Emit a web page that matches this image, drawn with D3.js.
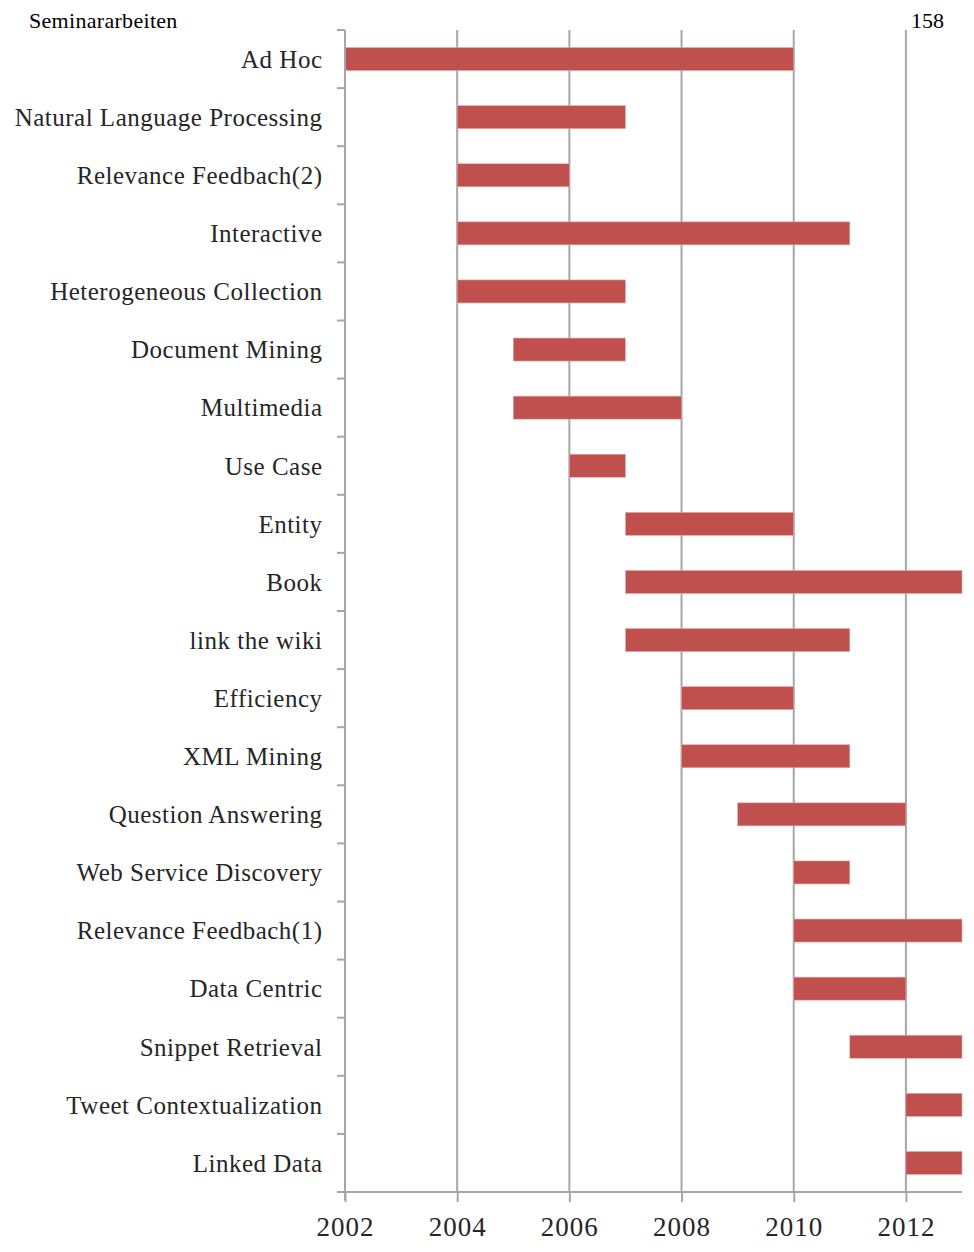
<!DOCTYPE html>
<html>
<head>
<meta charset="utf-8">
<script src="https://cdn.jsdelivr.net/npm/d3@7"></script>
<style>
  html, body { margin: 0; padding: 0; background: #fff; }
  svg { display: block; font-family: "Liberation Serif", "Times New Roman", serif; }
</style>
</head>
<body>
<svg id="chart" width="974" height="1252"></svg>
<script>
// INEX tracks and the years they ran
const tracks = [
  "Ad Hoc", "Natural Language Processing", "Relevance Feedbach(2)", "Interactive",
  "Heterogeneous Collection", "Document Mining", "Multimedia", "Use Case", "Entity",
  "Book", "link the wiki", "Efficiency", "XML Mining", "Question Answering",
  "Web Service Discovery", "Relevance Feedbach(1)", "Data Centric",
  "Snippet Retrieval", "Tweet Contextualization", "Linked Data"
];
const startYears = [2002, 2004, 2004, 2004, 2004, 2005, 2005, 2006, 2007, 2007, 2007, 2008, 2008, 2009, 2010, 2010, 2010, 2011, 2012, 2012];
const endYears   = [2010, 2007, 2006, 2011, 2007, 2007, 2008, 2007, 2010, 2013, 2011, 2010, 2011, 2012, 2011, 2013, 2012, 2013, 2013, 2013];
const yearTicks = [2002, 2004, 2006, 2008, 2010, 2012];

const svg = d3.select("#chart");
const plotLeft = 345, plotRight = 962, plotTop = 30, plotBottom = 1192;

const x = d3.scaleLinear().domain([2002, 2013]).range([plotLeft, plotRight]);
const y = d3.scaleBand().domain(tracks).range([plotTop, plotBottom]).padding(0);

const grey = "#a6a6a6";
const ink = "#262626";

// header line
svg.append("text").attr("x", 29).attr("y", 28).attr("font-size", 22)
  .attr("letter-spacing", 0.3).attr("fill", "#000")
  .text("Seminararbeiten");
svg.append("text").attr("x", 944).attr("y", 28).attr("font-size", 22).attr("fill", "#000")
  .attr("text-anchor", "end").text("158");

// vertical gridlines
svg.append("g").selectAll("line").data(yearTicks.slice(1)).join("line")
  .attr("x1", d => x(d)).attr("x2", d => x(d))
  .attr("y1", plotTop).attr("y2", plotBottom)
  .attr("stroke", grey).attr("stroke-width", 2);

// bars
const rows = tracks.map((t, i) => ({ t, s: startYears[i], e: endYears[i] }));
const barH = 23;
svg.append("g").selectAll("rect").data(rows).join("rect")
  .attr("x", d => x(d.s))
  .attr("y", d => y(d.t) + (y.bandwidth() - barH) / 2)
  .attr("width", d => x(d.e) - x(d.s))
  .attr("height", barH)
  .attr("fill", "#C0504D")
  .attr("stroke", "#e3aaa8").attr("stroke-width", 0.6);

// y axis
const yAxis = svg.append("g").attr("transform", `translate(${plotLeft},0)`);
yAxis.append("line").attr("x1", 0).attr("x2", 0).attr("y1", plotTop).attr("y2", plotBottom + 8)
  .attr("stroke", grey).attr("stroke-width", 2);
const bounds = tracks.map(t => y(t)).concat([plotBottom]);
yAxis.selectAll("line.tick").data(bounds).join("line").attr("class", "tick")
  .attr("x1", -8).attr("x2", 0).attr("y1", d => d).attr("y2", d => d)
  .attr("stroke", grey).attr("stroke-width", 2);
yAxis.selectAll("text").data(tracks).join("text")
  .attr("x", -22.5).attr("y", d => y(d) + y.bandwidth() / 2)
  .attr("dy", "0.35em").attr("text-anchor", "end")
  .attr("font-size", 25).attr("letter-spacing", 0.5).attr("fill", ink)
  .text(d => d);

// x axis
const xAxis = svg.append("g").attr("transform", `translate(0,${plotBottom})`)
  .call(d3.axisBottom(x).tickValues(yearTicks).tickFormat(d3.format("d")).tickSize(10).tickPadding(15));
xAxis.select(".domain").attr("stroke", grey).attr("stroke-width", 2).attr("d", `M${plotLeft - 7},0H${plotRight}`);
xAxis.selectAll(".tick line").attr("stroke", grey).attr("stroke-width", 2);
xAxis.selectAll(".tick text").attr("font-size", 27).attr("letter-spacing", 1).attr("fill", ink)
  .attr("font-family", "Liberation Serif, serif");
</script>
</body>
</html>
